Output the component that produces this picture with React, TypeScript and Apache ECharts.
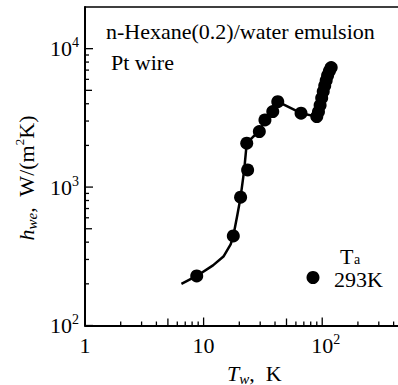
import React, { useEffect, useRef } from 'react';
import * as echarts from 'echarts';

const FONT = "'Liberation Serif', serif";

// measured points (T_w in K, h_we in W/(m^2 K))
const pointTw = [8.75, 17.8, 20.5, 23.5, 23.1, 29.5, 32.9, 38.3, 42.2, 66.3, 90, 93, 96, 99, 102, 105, 108, 111, 115, 119];
const pointH = [228, 444, 845, 1330, 2075, 2520, 3055, 3510, 4140, 3420, 3230, 3500, 3900, 4400, 4900, 5400, 5900, 6400, 6900, 7300];

// fitted curve
const curveTw = [6.5, 8.75, 12, 14.7, 16.9, 17.8, 19.2, 20.5, 22, 23.1, 26, 29.5, 33, 38.3, 42.2, 66.3, 90, 93, 99, 105, 111, 119];
const curveH = [200, 228, 272, 315, 385, 444, 620, 845, 1330, 2075, 2300, 2520, 3055, 3510, 4140, 3420, 3230, 3500, 4400, 5400, 6400, 7300];

// axes
const xRange = [1, 435.5];
const yRange = [100, 20000];
const xTickValues = [1, 2, 3, 4, 5, 6, 7, 8, 9, 10, 20, 30, 40, 50, 60, 70, 80, 90, 100, 200, 300, 400];
const yTickValues = [100, 200, 300, 400, 500, 600, 700, 800, 900, 1000, 2000, 3000, 4000, 5000, 6000, 7000, 8000, 9000, 10000];
const xTickLabels = ['1', '10', '10^2'];
const yTickLabels = ['10^2', '10^3', '10^4'];

const titleText = 'n-Hexane(0.2)/water emulsion';
const subText = 'Pt wire';
const legendSymbol = 'T';
const legendSub = 'a';
const legendTemp = '293K';

function isDecade(v: number) {
  const l = Math.log10(v);
  return Math.abs(l - Math.round(l)) < 1e-6;
}
function isFive(v: number) {
  const l = Math.log10(v / 5);
  return Math.abs(l - Math.round(l)) < 1e-6;
}
function richLabel(s: string, pad: boolean) {
  const [b, e] = s.split('^');
  if (e === undefined) return '{b|' + b + '}';
  return (pad ? '{p|}' : '') + '{b|' + b + '}{s|' + e + '}';
}

const labelRich = {
  b: { fontSize: 22, fontFamily: FONT, color: '#000', lineHeight: 26 },
  s: { fontSize: 14, fontFamily: FONT, color: '#000', lineHeight: 14, verticalAlign: 'top' },
  p: { width: 7 },
};

export default function App() {
  const ref = useRef<HTMLDivElement>(null);
  useEffect(() => {
    if (!ref.current) return;
    const chart = echarts.init(ref.current, undefined, { renderer: 'svg' });
    const tickLen = (v: number) => (isDecade(v) ? 8 : isFive(v) ? 7 : 4);
    chart.setOption({
      animation: false,
      backgroundColor: '#fff',
      textStyle: { fontFamily: FONT },
      grid: { left: 85, top: 7, right: 0, bottom: 59.5, outerBoundsMode: 'none' },
      xAxis: [
        {
          type: 'log',
          min: xRange[0],
          max: xRange[1],
          axisLine: { show: true, lineStyle: { color: '#000', width: 2 } },
          axisTick: { show: false },
          splitLine: { show: false },
          axisLabel: {
            margin: 7,
            fontFamily: FONT,
            formatter: (v: number) => {
              if (!isDecade(v)) return '';
              const i = Math.round(Math.log10(v));
              return xTickLabels[i] ? richLabel(xTickLabels[i], true) : '';
            },
            rich: labelRich,
          },
        },
        {
          type: 'log',
          position: 'top',
          min: xRange[0],
          max: xRange[1],
          axisLine: { show: true, lineStyle: { color: '#000', width: 1.5 } },
          axisTick: { show: false },
          axisLabel: { show: false },
          splitLine: { show: false },
        },
      ],
      yAxis: {
        type: 'log',
        min: yRange[0],
        max: yRange[1],
        axisLine: { show: true, lineStyle: { color: '#000', width: 2 } },
        axisTick: { show: false },
        splitLine: { show: false },
        axisLabel: {
          margin: 6,
          fontFamily: FONT,
          formatter: (v: number) => {
            if (!isDecade(v)) return '';
            const i = Math.round(Math.log10(v)) - 2;
            return yTickLabels[i] ? richLabel(yTickLabels[i], false) : '';
          },
          rich: labelRich,
        },
      },
      series: [
        {
          type: 'custom',
          coordinateSystem: 'cartesian2d',
          xAxisIndex: 0,
          silent: true,
          clip: false,
          data: xTickValues.map((v) => [v, yRange[0]]),
          renderItem: (_p: any, api: any) => {
            const v = api.value(0);
            const pt = api.coord([v, yRange[0]]);
            const len = tickLen(v);
            return {
              type: 'line',
              shape: { x1: pt[0], y1: pt[1], x2: pt[0], y2: pt[1] - len },
              style: { stroke: '#000', lineWidth: 1.3 },
            };
          },
        },
        {
          type: 'custom',
          coordinateSystem: 'cartesian2d',
          xAxisIndex: 0,
          silent: true,
          clip: false,
          data: yTickValues.map((v) => [xRange[0], v]),
          renderItem: (_p: any, api: any) => {
            const v = api.value(1);
            const pt = api.coord([xRange[0], v]);
            const len = tickLen(v);
            return {
              type: 'line',
              shape: { x1: pt[0], y1: pt[1], x2: pt[0] + len, y2: pt[1] },
              style: { stroke: '#000', lineWidth: 1.3 },
            };
          },
        },
        {
          type: 'line',
          xAxisIndex: 0,
          data: curveTw.map((x, i) => [x, curveH[i]]),
          symbol: 'none',
          lineStyle: { color: '#000', width: 2.5 },
          z: 3,
        },
        {
          type: 'scatter',
          xAxisIndex: 0,
          data: pointTw.map((x, i) => [x, pointH[i]]),
          symbol: 'circle',
          symbolSize: 13,
          itemStyle: { color: '#000', opacity: 1 },
          z: 4,
        },
      ],
      graphic: [
        {
          type: 'text',
          x: 106,
          y: 31,
          style: { text: titleText, fontSize: 22, fontFamily: FONT, fill: '#000', verticalAlign: 'middle' },
        },
        {
          type: 'text',
          x: 111,
          y: 62,
          style: { text: subText, fontSize: 22, fontFamily: FONT, fill: '#000', verticalAlign: 'middle' },
        },
        {
          type: 'circle',
          shape: { cx: 313, cy: 277.5, r: 6.5 },
          style: { fill: '#000' },
        },
        {
          type: 'text',
          x: 340,
          y: 256,
          style: { text: legendSymbol, fontSize: 22, fontFamily: FONT, fill: '#000', verticalAlign: 'middle' },
        },
        {
          type: 'text',
          x: 354,
          y: 259.5,
          style: { text: legendSub, fontSize: 14, fontFamily: FONT, fill: '#000', verticalAlign: 'middle' },
        },
        {
          type: 'text',
          x: 334,
          y: 279.5,
          style: { text: legendTemp, fontSize: 22, fontFamily: FONT, fill: '#000', verticalAlign: 'middle' },
        },
        {
          type: 'text',
          x: 227,
          y: 373,
          style: {
            text: '{i|T}{sub|w}{n|,  K}',
            verticalAlign: 'middle',
            rich: {
              i: { fontSize: 22, fontFamily: FONT, fontStyle: 'italic', fill: '#000', lineHeight: 26 },
              sub: { fontSize: 15, fontFamily: FONT, fontStyle: 'italic', fill: '#000', lineHeight: 15, verticalAlign: 'bottom' },
              n: { fontSize: 22, fontFamily: FONT, fill: '#000', lineHeight: 26 },
            },
          },
        },
        {
          type: 'text',
          x: 26,
          y: 178,
          rotation: Math.PI / 2,
          style: {
            text: '{i|h}{sub|we}{n|,  W/(m}{sup|2}{n|K)}',
            align: 'center',
            verticalAlign: 'middle',
            rich: {
              i: { fontSize: 22, fontFamily: FONT, fontStyle: 'italic', fill: '#000', lineHeight: 26 },
              sub: { fontSize: 15, fontFamily: FONT, fontStyle: 'italic', fill: '#000', lineHeight: 15, verticalAlign: 'bottom' },
              n: { fontSize: 22, fontFamily: FONT, fill: '#000', lineHeight: 26 },
              sup: { fontSize: 13, fontFamily: FONT, fill: '#000', lineHeight: 13, verticalAlign: 'top' },
            },
          },
        },
      ],
    });
    return () => chart.dispose();
  }, []);
  return <div ref={ref} style={{ width: 398, height: 385, position: 'absolute', left: 0, top: 0 }} />;
}
